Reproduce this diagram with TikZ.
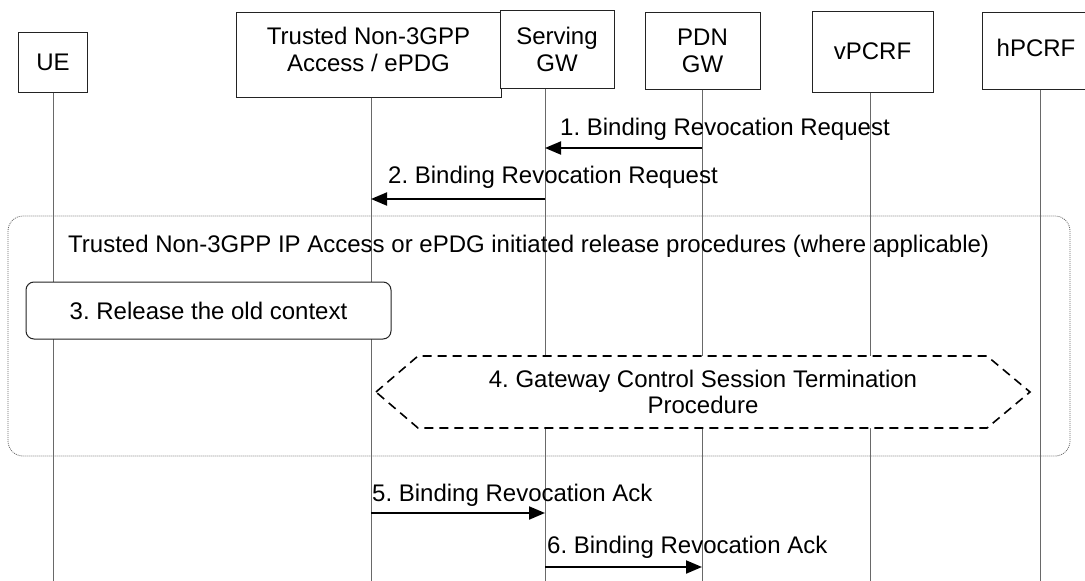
\documentclass[tikz,border=0pt]{standalone}
\usepackage{fontspec}
\setmainfont{Liberation Sans}
\usepackage{tikz}
\usetikzlibrary{arrows.meta, positioning, calc}
\definecolor{lnblack}{RGB}{35,35,35}
\definecolor{lngray}{RGB}{105,105,105}
\frenchspacing

\begin{document}
\begin{tikzpicture}[x=1pt, y=-1pt,
  entity/.style={rectangle, draw=lnblack, fill=white, line width=1pt, align=center, inner sep=0pt, font=\fontsize{24}{27}\selectfont},
  lbl/.style={inner sep=0pt, font=\fontsize{24}{26}\selectfont},
  life/.style={draw=lngray, line width=1pt},
  msg/.style={-{Triangle[length=16pt, width=13pt]}, line width=2pt},
  frame/.style={draw=lngray, dash pattern=on 1pt off 1pt, line width=0.8pt, rounded corners=15pt},
  note/.style={rectangle, draw=lnblack, fill=white, rounded corners=8pt, line width=1pt, inner sep=0pt, font=\fontsize{24}{26}\selectfont},
  proc/.style={draw=black, fill=white, dash pattern=on 9pt off 6pt, line width=1.6pt}
]
\useasboundingbox (0,0) rectangle (1085,581);
% entities
\node[entity, minimum width=69pt, minimum height=60pt] (ue) at (53,62) {UE};
\node[entity, minimum width=265pt, minimum height=85pt] (tna) at (368.5,54.5) {Trusted Non-3GPP\\Access / ePDG\\[-17pt]};
\node[entity, minimum width=114pt, minimum height=78pt] (sgw) at (557,49) {Serving\\GW};
\node[entity, minimum width=115pt, minimum height=77pt] (pgw) at (702.5,50.5) {PDN\\GW};
\node[entity, minimum width=121pt, minimum height=81pt] (vpcrf) at (872.5,51.5) {vPCRF};
\node[entity, minimum width=108pt, minimum height=77pt] (hpcrf) at (1036,50.5) {hPCRF\\[-21pt]};
% lifelines
\coordinate (ueL) at (53,0);
\coordinate (tnaL) at (371,0);
\coordinate (sgwL) at (545,0);
\coordinate (pgwL) at (702,0);
\coordinate (vpL) at (870,0);
\coordinate (hpL) at (1040,0);
\coordinate (bot) at (0,581);
\foreach \e/\l in {ue/ueL, tna/tnaL, sgw/sgwL, pgw/pgwL, vpcrf/vpL, hpcrf/hpL}
  \draw[life] (\l |- \e.south) -- (\l |- bot);
% rows
\coordinate (r1) at (0,148);
\coordinate (r2) at (0,199);
\coordinate (r5) at (0,513);
\coordinate (r6) at (0,567);
% 1, 2
\draw[msg] (pgwL |- r1) -- (sgwL |- r1);
\node[lbl, anchor=base west] (m1) at (560,135) {1. Binding Revocation Request};
\draw[msg] (sgwL |- r2) -- (tnaL |- r2);
\node[lbl, anchor=base west] (m2) at (388,183) {2. Binding Revocation Request};
% release procedures
\draw[frame] (8,216) rectangle (1070,456);
\node[lbl, anchor=base west] (rel) at (68,252) {Trusted Non-3GPP IP Access or ePDG initiated release procedures (where applicable)};
\node[note, minimum width=365pt, minimum height=57pt] (old) at (208.5,310.5) {3. Release the old context};
\draw[proc] (376,392) -- (418,356) -- (987,356) -- (1030,392) -- (987,428) -- (418,428) -- cycle;
\node[lbl, align=center] (gcst) at (703,392) {4. Gateway Control Session Termination\\Procedure};
% 5, 6
\draw[msg] (tnaL |- r5) -- (sgwL |- r5);
\node[lbl, anchor=base west] (m5) at (372,501) {5. Binding Revocation Ack};
\draw[msg] (sgwL |- r6) -- (pgwL |- r6);
\node[lbl, anchor=base west] (m6) at (547,553) {6. Binding Revocation Ack};
\end{tikzpicture}
\end{document}
